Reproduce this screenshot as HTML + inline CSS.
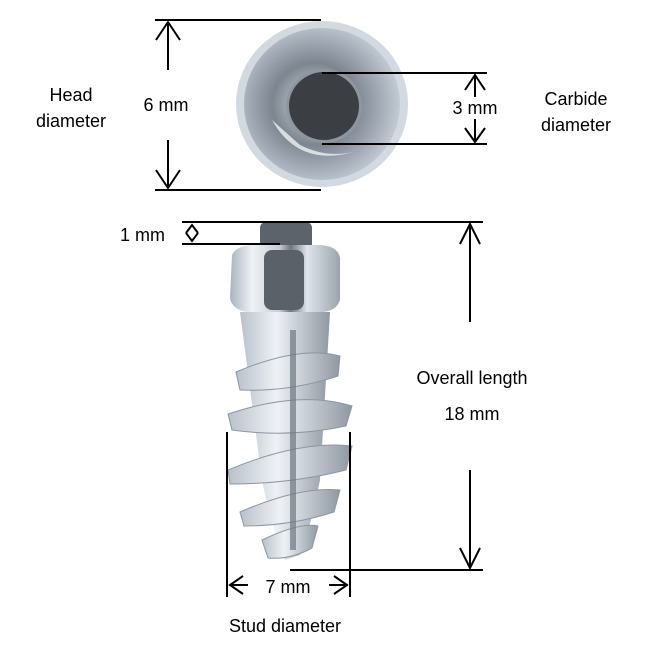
<!DOCTYPE html>
<html><head><style>
body{margin:0;background:#fff;}
svg{display:block;font-family:"Liberation Sans",sans-serif;}
</style></head><body>
<svg width="650" height="650" viewBox="0 0 650 650">
<defs>
<radialGradient id="hg" cx="0.45" cy="0.5" r="0.6">
<stop offset="0" stop-color="#d8dde3"/><stop offset="0.45" stop-color="#7d8690"/><stop offset="0.75" stop-color="#a9b2bc"/><stop offset="1" stop-color="#cfd6de"/></radialGradient>
<linearGradient id="mg" x1="0" x2="1">
<stop offset="0" stop-color="#aab3bd"/><stop offset="0.2" stop-color="#eef2f6"/><stop offset="0.45" stop-color="#c7ced6"/><stop offset="0.55" stop-color="#6e7680"/><stop offset="0.7" stop-color="#dfe5eb"/><stop offset="1" stop-color="#9aa3ad"/></linearGradient>
<linearGradient id="tg" x1="0" x2="1">
<stop offset="0" stop-color="#b9c1ca"/><stop offset="0.4" stop-color="#eef2f6"/><stop offset="1" stop-color="#8f98a2"/></linearGradient>
</defs>
<ellipse cx="322" cy="104" rx="86" ry="83" fill="#d3d9e0"/>
<ellipse cx="322" cy="104" rx="78" ry="76" fill="url(#hg)"/>
<path d="M272 120 Q300 170 360 150 Q330 160 300 145 Z" fill="#eef1f4" opacity="0.8"/>
<ellipse cx="324" cy="106" rx="38" ry="37" fill="#8e969f"/>
<ellipse cx="324" cy="106" rx="35" ry="34" fill="#3b3e43"/>
<rect x="260" y="222" width="52" height="30" rx="6" fill="#5d636a"/>
<path d="M232 255 Q236 246 252 245 L320 245 Q338 246 340 258 L340 300 Q336 312 320 312 L248 312 Q232 310 230 298 Z" fill="url(#mg)"/>
<rect x="264" y="250" width="40" height="60" rx="8" fill="#5b6168"/>
<path d="M240 312 L330 312 L320 480 Q310 530 300 555 L285 560 Q272 530 262 480 Z" fill="url(#tg)"/>
<g fill="url(#tg)" stroke="#8d96a0" stroke-width="1">
<path d="M236 372 Q300 345 340 356 L338 376 Q290 392 240 390 Z"/>
<path d="M228 414 Q300 390 352 406 L346 426 Q290 438 232 430 Z"/>
<path d="M228 470 Q300 440 352 446 L346 470 Q290 484 230 484 Z"/>
<path d="M240 512 Q300 486 340 490 L334 512 Q290 526 244 526 Z"/>
<path d="M262 540 Q300 522 318 526 L312 548 Q290 560 268 558 Z"/>
</g>
<rect x="290" y="330" width="6" height="220" fill="#6e7680" opacity="0.7"/>
<g stroke="#000" stroke-width="2" fill="none">
<line x1="155" y1="20" x2="321" y2="20"/><line x1="155" y1="190" x2="321" y2="190"/>
<line x1="168" y1="22" x2="168" y2="70"/><polyline points="156,40 168,22 180,40"/>
<line x1="168" y1="140" x2="168" y2="188"/><polyline points="156,170 168,188 180,170"/>
<line x1="322" y1="73" x2="487" y2="73"/><line x1="322" y1="144" x2="487" y2="144"/>
<line x1="475" y1="75" x2="475" y2="97"/><polyline points="465,90 475,75 485,90"/>
<line x1="475" y1="119" x2="475" y2="142"/><polyline points="465,128 475,142 485,128"/>
<line x1="182" y1="222" x2="483" y2="222"/><line x1="182" y1="244" x2="280" y2="244"/>
<polyline points="186,233 192,225 198,233"/><polyline points="186,233 192,241 198,233"/>
<line x1="470" y1="224" x2="470" y2="322"/><polyline points="460,244 470,224 480,244"/>
<line x1="470" y1="470" x2="470" y2="568"/><polyline points="460,548 470,568 480,548"/>
<line x1="290" y1="570" x2="483" y2="570"/>
<line x1="227" y1="432" x2="227" y2="597"/><line x1="350" y1="432" x2="350" y2="597"/>
<polyline points="243,576 230,585 243,594"/><line x1="230" y1="585" x2="248" y2="585"/>
<polyline points="334,576 347,585 334,594"/><line x1="329" y1="585" x2="347" y2="585"/>
</g>
<g font-size="18" fill="#000">
<text x="71" y="101" text-anchor="middle">Head</text>
<text x="71" y="127" text-anchor="middle">diameter</text>
<text x="166" y="111" text-anchor="middle">6 mm</text>
<text x="475" y="114" text-anchor="middle">3 mm</text>
<text x="576" y="105" text-anchor="middle">Carbide</text>
<text x="576" y="131" text-anchor="middle">diameter</text>
<text x="120" y="241">1 mm</text>
<text x="472" y="384" text-anchor="middle">Overall length</text>
<text x="472" y="420" text-anchor="middle">18 mm</text>
<text x="288" y="593" text-anchor="middle">7 mm</text>
<text x="285" y="632" text-anchor="middle">Stud diameter</text>
</g>
</svg>
</body></html>
